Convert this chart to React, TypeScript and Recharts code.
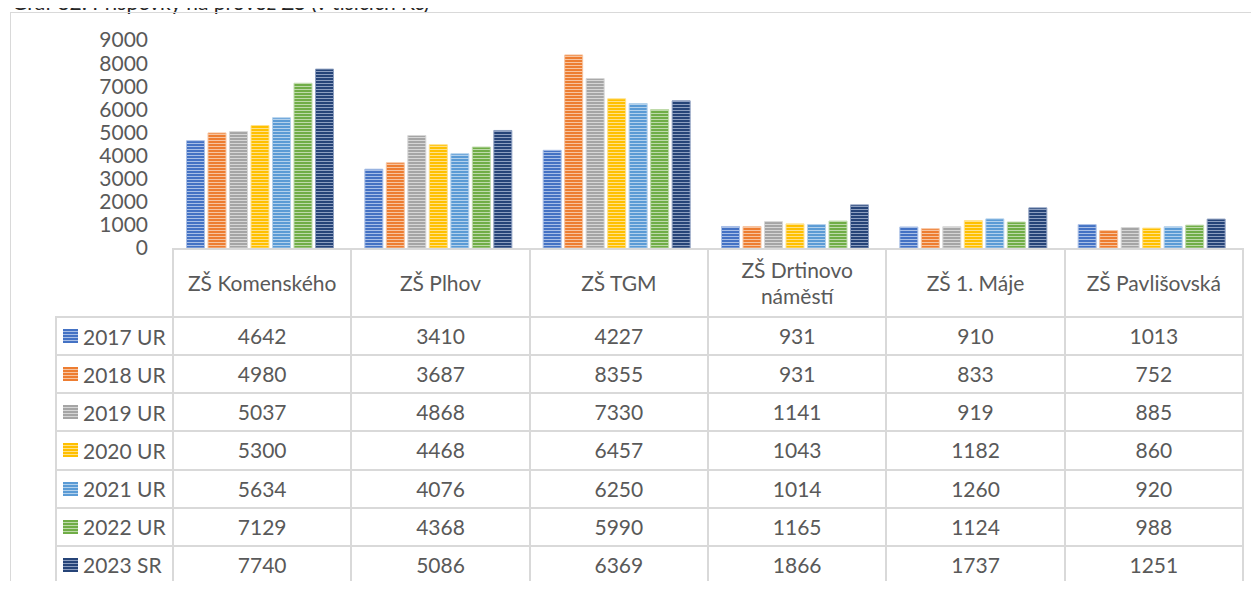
import { BarChart, Bar, XAxis, YAxis } from 'recharts';

const schools = ['ZŠ Komenského', 'ZŠ Plhov', 'ZŠ TGM', 'ZŠ Drtinovo náměstí', 'ZŠ 1. Máje', 'ZŠ Pavlišovská'];
const seriesNames = ['2017 UR', '2018 UR', '2019 UR', '2020 UR', '2021 UR', '2022 UR', '2023 SR'];

const ur2017 = [4642, 3410, 4227, 931, 910, 1013];
const ur2018 = [4980, 3687, 8355, 931, 833, 752];
const ur2019 = [5037, 4868, 7330, 1141, 919, 885];
const ur2020 = [5300, 4468, 6457, 1043, 1182, 860];
const ur2021 = [5634, 4076, 6250, 1014, 1260, 920];
const ur2022 = [7129, 4368, 5990, 1165, 1124, 988];
const sr2023 = [7740, 5086, 6369, 1866, 1737, 1251];

const yTicks = [0, 1000, 2000, 3000, 4000, 5000, 6000, 7000, 8000, 9000];

const series = [ur2017, ur2018, ur2019, ur2020, ur2021, ur2022, sr2023];
const colors = ['#4472C4', '#ED7D31', '#A5A5A5', '#FFC000', '#5B9BD5', '#70AD47', '#264478'];
const lights = ['#A9BFE6', '#F7C4A0', '#D6D6D6', '#FFE18A', '#B3D1EC', '#BEDAAA', '#8D9FC0'];

const chartData = schools.map((name, i) => {
  const row: Record<string, string | number> = { name };
  seriesNames.forEach((s, k) => {
    row[s] = series[k][i];
  });
  return row;
});

const GRID = '#d9d9d9';
const TEXT = '#595959';
const PLOT_LEFT = 172;
const COL_W = (1242 - 172) / 6;
const LEGEND_LEFT = 55;
const HEAD_TOP = 248;
const ROW_TOP = 316;
const ROW_H = (583 - 316) / 7;

const stripes = (k: number) =>
  `repeating-linear-gradient(to bottom, ${colors[k]} 0px, ${colors[k]} 2px, ${lights[k]} 2px, ${lights[k]} 3px)`;

function Cell({ left, top, width, height, children }: any) {
  return (
    <div
      style={{
        position: 'absolute',
        left,
        top,
        width: width + 2,
        height: height + 2,
        boxSizing: 'border-box',
        border: `2px solid ${GRID}`,
        display: 'flex',
        alignItems: 'center',
        justifyContent: 'center',
        textAlign: 'center',
        lineHeight: '26px',
        padding: '0 6px',
      }}
    >
      {children}
    </div>
  );
}

export default function App() {
  return (
    <div
      style={{
        position: 'relative',
        width: 1259,
        height: 589,
        margin: -8,
        overflow: 'hidden',
        background: '#fff',
        fontFamily: 'Lato, "Open Sans", sans-serif',
        fontSize: 21,
        color: TEXT,
      }}
    >
      {/* caption sits above the frame and is cut by the top edge, as in the source */}
      <div style={{ position: 'absolute', left: 12, top: -9, fontSize: 21, lineHeight: '21px', color: '#262626', whiteSpace: 'nowrap' }}>
        Graf 82: Příspěvky na provoz ZŠ (v tisících Kč)
      </div>
      <div style={{ position: 'absolute', left: 10, top: 12, width: 1400, height: 700, border: `1.5px solid ${GRID}` }} />

      <div style={{ position: 'absolute', left: 0, top: 0 }}>
        <BarChart
          width={1259}
          height={260}
          data={chartData}
          margin={{ top: 40, right: 17, bottom: 12, left: 0 }}
          barCategoryGap={14.5}
          barGap={3.5}
        >
          <defs>
            {colors.map((c, k) => (
              <pattern key={k} id={`stripe${k}`} patternUnits="userSpaceOnUse" width={6} height={3}>
                <rect x={0} y={0} width={6} height={3} fill={c} />
                <rect x={0} y={2} width={6} height={1} fill={lights[k]} />
              </pattern>
            ))}
          </defs>
          <XAxis
            dataKey="name"
            height={0}
            tick={false}
            tickLine={false}
            axisLine={{ stroke: GRID, strokeWidth: 2 }}
          />
          <YAxis
            width={PLOT_LEFT}
            domain={[0, 9000]}
            ticks={yTicks}
            interval={0}
            axisLine={false}
            tickLine={false}
            tickSize={0}
            tickMargin={24}
            tick={{ fill: TEXT, fontSize: 21, fontFamily: 'Lato, "Open Sans", sans-serif' }}
          />
          {seriesNames.map((s, k) => (
            <Bar
              key={s}
              dataKey={s}
              fill={`url(#stripe${k})`}
              stroke={lights[k]}
              strokeWidth={1}
              isAnimationActive={false}
            />
          ))}
        </BarChart>
      </div>

      {schools.map((s, i) => (
        <Cell key={s} left={PLOT_LEFT + i * COL_W} top={HEAD_TOP} width={COL_W} height={ROW_TOP - HEAD_TOP}>
          {s}
        </Cell>
      ))}

      {seriesNames.map((name, k) => (
        <div key={name}>
          <div
            style={{
              position: 'absolute',
              left: LEGEND_LEFT,
              top: ROW_TOP + k * ROW_H,
              width: PLOT_LEFT - LEGEND_LEFT + 2,
              height: ROW_H + 2,
              boxSizing: 'border-box',
              border: `2px solid ${GRID}`,
              display: 'flex',
              alignItems: 'center',
              paddingLeft: 6,
              whiteSpace: 'nowrap',
            }}
          >
            <span style={{ display: 'inline-block', width: 15, height: 14, marginRight: 5, background: stripes(k) }} />
            {name}
          </div>
          {series[k].map((v, i) => (
            <Cell key={i} left={PLOT_LEFT + i * COL_W} top={ROW_TOP + k * ROW_H} width={COL_W} height={ROW_H}>
              {v}
            </Cell>
          ))}
        </div>
      ))}
    </div>
  );
}
